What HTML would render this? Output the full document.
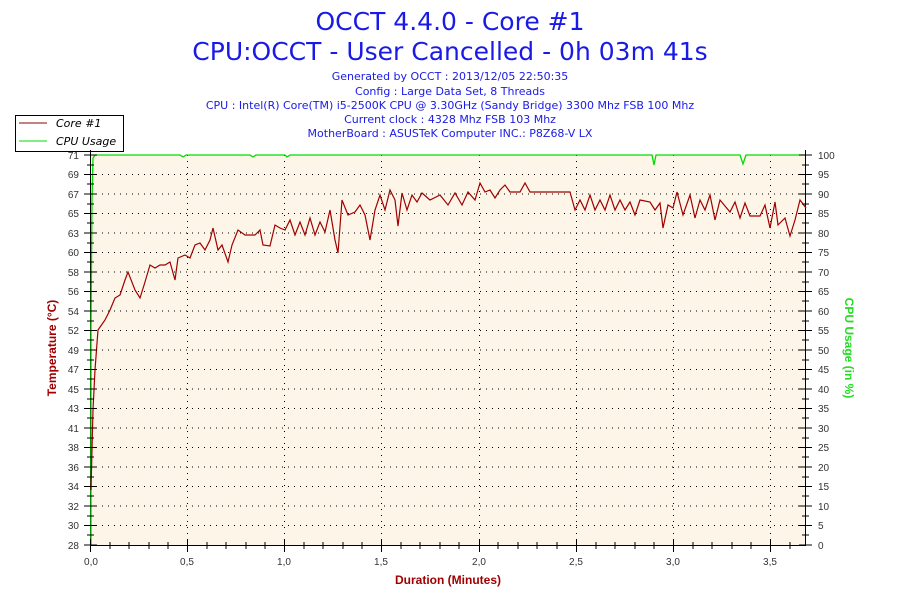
<!DOCTYPE html>
<html><head><meta charset="utf-8"><style>
body{margin:0;background:#fff;width:900px;height:600px;overflow:hidden}
svg text{font-family:"Liberation Sans",sans-serif}
svg text.dv{font-family:"DejaVu Sans",sans-serif}
</style></head><body>
<svg width="900" height="600" xmlns="http://www.w3.org/2000/svg">
<g fill="#1a1ae6" text-anchor="middle">
<text class="dv" x="450" y="30" font-size="25">OCCT 4.4.0 - Core #1</text>
<text class="dv" x="450" y="60" font-size="25">CPU:OCCT - User Cancelled - 0h 03m 41s</text>
<g font-size="11">
<text class="dv" x="450" y="80">Generated by OCCT : 2013/12/05 22:50:35</text>
<text class="dv" x="450" y="95">Config : Large Data Set, 8 Threads</text>
<text class="dv" x="450" y="109">CPU : Intel(R) Core(TM) i5-2500K CPU @ 3.30GHz (Sandy Bridge) 3300 Mhz FSB 100 Mhz</text>
<text class="dv" x="450" y="123">Current clock : 4328 Mhz FSB 103 Mhz</text>
<text class="dv" x="450" y="137">MotherBoard : ASUSTeK Computer INC.: P8Z68-V LX</text>
</g></g>
<rect x="15.5" y="115.5" width="108" height="36" fill="#fff" stroke="#000"/>
<line x1="19" y1="123" x2="47" y2="123" stroke="#8b0000"/>
<line x1="19" y1="141" x2="47" y2="141" stroke="#00dd00"/>
<text class="dv" x="56" y="127" font-size="11" font-style="italic">Core #1</text>
<text class="dv" x="56" y="145" font-size="11" font-style="italic">CPU Usage</text>
<rect x="90" y="155" width="716" height="390" fill="#fdf6e8"/>
<g stroke="#000" stroke-dasharray="1,5" stroke-width="1">
<path d="M90 174.5H806M90 194H806M90 213.5H806M90 233H806M90 252.5H806M90 272H806M90 291.5H806M90 311H806M90 330.5H806M90 350H806M90 369.5H806M90 389H806M90 408.5H806M90 428H806M90 447.5H806M90 467H806M90 486.5H806M90 506H806M90 525.5H806"/>
<path d="M187.5 155V545M284.5 155V545M381.5 155V545M479.5 155V545M576.5 155V545M673.5 155V545M770.5 155V545"/>
</g>
<g stroke="#000">
<line x1="90.5" y1="150" x2="90.5" y2="546"/>
<line x1="805.5" y1="150" x2="805.5" y2="546"/>
<line x1="90" y1="545.5" x2="806" y2="545.5"/>
</g>
<polyline fill="none" stroke="#00dd00" stroke-width="1.3" points="91,545 91,330 92,200 93,158 95,155 180,155 183,157 186,155 250,155 253,157 256,155 285,155 287,157 290,155 652,155 654,165 656,155 740,155 743,164 746,155 805,155"/>
<polyline fill="none" stroke="#a00000" stroke-width="1.2" points="91,490 93,410 95,370 98,330 105,320 110,310 115,298 120,295 125,280 128,272 135,290 140,298 145,282 150,265 155,268 160,265 165,265 170,262 175,280 178,258 185,255 190,258 195,245 200,243 205,250 210,240 213,228 218,250 222,245 228,262 232,245 238,230 245,235 255,235 260,230 263,245 270,246 275,225 280,228 285,230 290,220 295,235 300,222 305,235 310,218 315,235 320,222 325,232 330,210 335,240 338,253 342,200 348,215 355,212 360,205 365,215 370,240 375,210 380,195 385,210 390,190 395,200 398,226 402,193 407,210 412,195 417,202 422,193 430,200 440,195 448,205 455,193 462,205 468,192 475,200 480,183 485,192 490,190 495,198 500,190 505,185 510,192 520,192 525,183 530,192 570,192 575,210 580,200 585,210 590,195 595,210 600,200 605,210 610,195 615,210 620,200 625,210 630,202 635,215 640,200 650,202 655,210 660,203 663,228 668,205 673,208 677,192 683,215 690,195 695,218 700,200 705,210 710,195 715,220 720,200 730,212 735,202 740,218 745,203 750,216 760,216 765,205 770,228 775,202 778,225 785,218 790,236 795,220 800,200 806,208"/>
<g stroke="#000">
<path d="M84 545H97M84 525.5H97M84 506H97M84 486.5H97M84 467H97M84 447.5H97M84 428H97M84 408.5H97M84 389H97M84 369.5H97M84 350H97M84 330.5H97M84 311H97M84 291.5H97M84 272H97M84 252.5H97M84 233H97M84 213.5H97M84 194H97M84 174.5H97M84 155H97"/>
<path d="M799 545H812M799 525.5H812M799 506H812M799 486.5H812M799 467H812M799 447.5H812M799 428H812M799 408.5H812M799 389H812M799 369.5H812M799 350H812M799 330.5H812M799 311H812M799 291.5H812M799 272H812M799 252.5H812M799 233H812M799 213.5H812M799 194H812M799 174.5H812M799 155H812"/>
<path d="M87 535H94M87 516H94M87 496H94M87 477H94M87 457H94M87 438H94M87 418H94M87 399H94M87 379H94M87 360H94M87 340H94M87 321H94M87 301H94M87 282H94M87 262H94M87 243H94M87 223H94M87 204H94M87 184H94M87 165H94"/>
<path d="M802 535H809M802 516H809M802 496H809M802 477H809M802 457H809M802 438H809M802 418H809M802 399H809M802 379H809M802 360H809M802 340H809M802 321H809M802 301H809M802 282H809M802 262H809M802 243H809M802 223H809M802 204H809M802 184H809M802 165H809"/>
<path d="M90.5 539V552M187.5 539V552M284.5 539V552M381.5 539V552M479.5 539V552M576.5 539V552M673.5 539V552M770.5 539V552"/>
<path d="M110 542V549M129 542V549M149 542V549M168 542V549M207 542V549M226 542V549M246 542V549M265 542V549M304 542V549M323 542V549M343 542V549M362 542V549M401 542V549M420 542V549M440 542V549M459 542V549M498 542V549M518 542V549M537 542V549M557 542V549M596 542V549M615 542V549M635 542V549M654 542V549M693 542V549M712 542V549M732 542V549M751 542V549M790 542V549"/>
</g>
<g font-size="10" fill="#333" text-anchor="end">
<text x="79" y="549">28</text><text x="79" y="529">30</text><text x="79" y="510">32</text><text x="79" y="490">34</text><text x="79" y="471">36</text><text x="79" y="451">38</text><text x="79" y="432">41</text><text x="79" y="412">43</text><text x="79" y="393">45</text><text x="79" y="373">47</text><text x="79" y="354">49</text><text x="79" y="334">52</text><text x="79" y="315">54</text><text x="79" y="295">56</text><text x="79" y="276">58</text><text x="79" y="256">60</text><text x="79" y="237">63</text><text x="79" y="217">65</text><text x="79" y="198">67</text><text x="79" y="178">69</text><text x="79" y="159">71</text>
</g>
<g font-size="10" fill="#333">
<text x="818" y="549">0</text><text x="818" y="529">5</text><text x="818" y="510">10</text><text x="818" y="490">15</text><text x="818" y="471">20</text><text x="818" y="451">25</text><text x="818" y="432">30</text><text x="818" y="412">35</text><text x="818" y="393">40</text><text x="818" y="373">45</text><text x="818" y="354">50</text><text x="818" y="334">55</text><text x="818" y="315">60</text><text x="818" y="295">65</text><text x="818" y="276">70</text><text x="818" y="256">75</text><text x="818" y="237">80</text><text x="818" y="217">85</text><text x="818" y="198">90</text><text x="818" y="178">95</text><text x="818" y="159">100</text>
</g>
<g font-size="10" fill="#333" text-anchor="middle">
<text x="91" y="565">0,0</text><text x="187" y="565">0,5</text><text x="284" y="565">1,0</text><text x="381" y="565">1,5</text><text x="479" y="565">2,0</text><text x="576" y="565">2,5</text><text x="673" y="565">3,0</text><text x="770" y="565">3,5</text>
</g>
<text x="448" y="584" font-size="12" font-weight="bold" fill="#a00000" text-anchor="middle">Duration (Minutes)</text>
<text transform="translate(56,348) rotate(-90)" font-size="12" font-weight="bold" fill="#a00000" text-anchor="middle">Temperature (°C)</text>
<text transform="translate(845,348) rotate(90)" font-size="12" font-weight="bold" fill="#22dd22" text-anchor="middle">CPU Usage (in %)</text>
</svg>
</body></html>
